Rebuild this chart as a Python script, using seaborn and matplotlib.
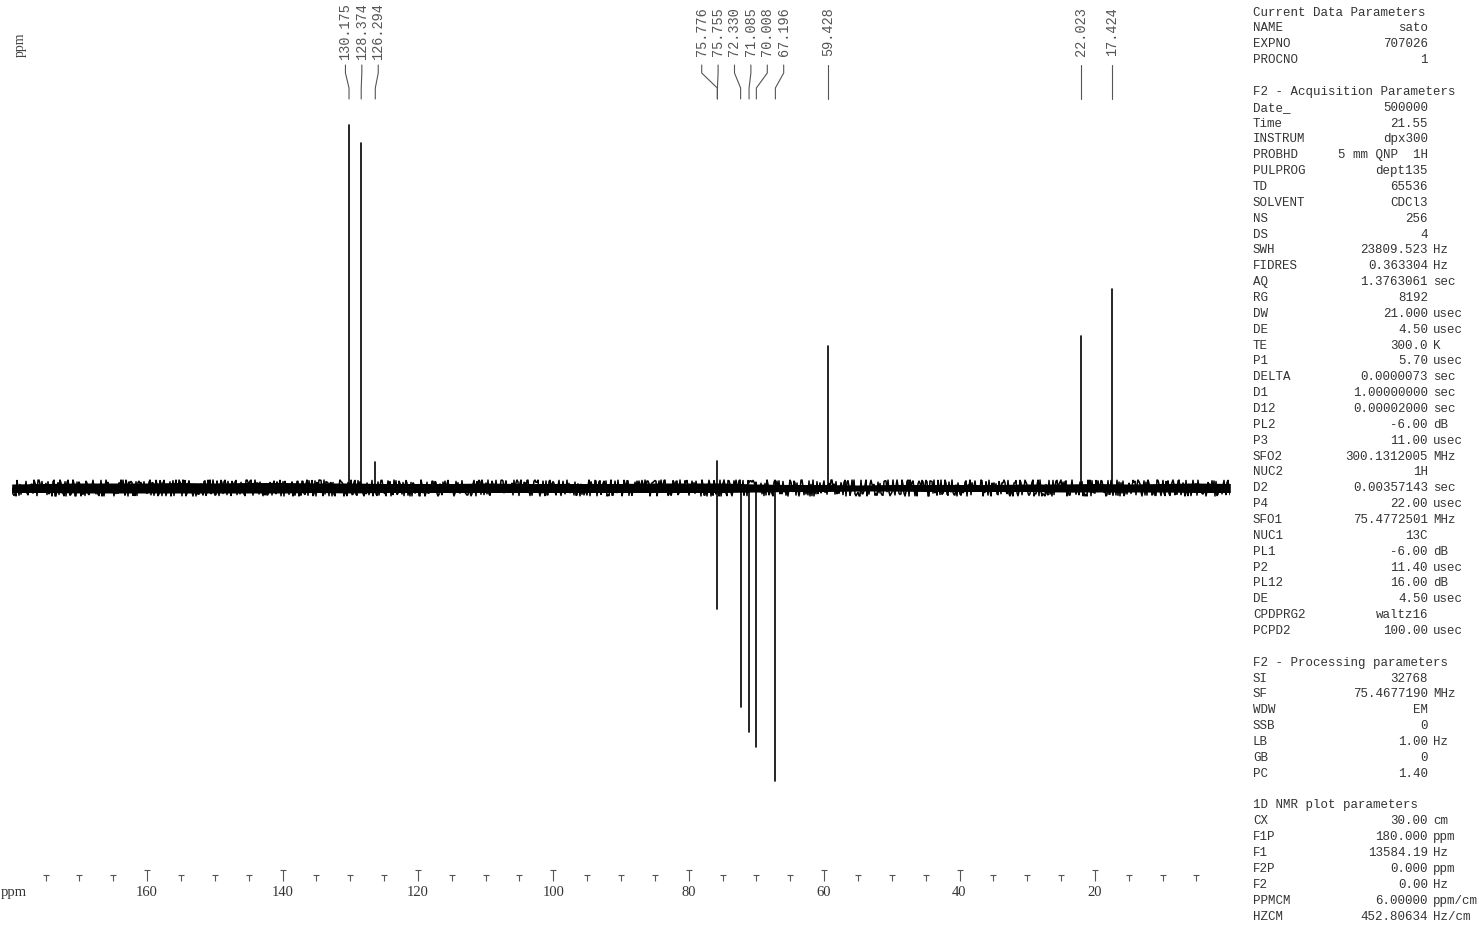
import matplotlib
matplotlib.use("Agg")
import numpy as np
import pandas as pd
import seaborn as sns
import matplotlib.pyplot as plt
from matplotlib.transforms import blended_transform_factory

# ---- spectrum data (13C DEPT-135, CDCl3) ----
peak_ppm = [130.175, 128.374, 126.294, 75.776, 75.755, 72.330,
            71.085, 70.008, 67.196, 59.428, 22.023, 17.424]
peak_intensity = [363, 345, 26, 27, -121, -219, -244, -259, -293, 142, 152, 199]

# baseline noise envelope (half-width above / below baseline), every 5 ppm
noise_ppm = [180, 175, 170, 165, 160, 155, 150, 145, 140, 135, 130, 125, 120,
             115, 110, 105, 100, 95, 90, 85, 80, 75, 70, 65, 60, 55, 50, 45,
             40, 35, 30, 25, 20, 15, 10, 5, 0]
noise_upper = [8, 9, 10, 10, 10, 11, 10, 11, 11, 10, 10, 9, 9, 9, 10, 9, 9, 9,
               9, 10, 10, 10, 8, 7, 7, 6, 7, 7, 7, 7, 8, 8, 9, 8, 9, 10, 9]
noise_lower = [9, 9, 10, 10, 10, 10, 10, 10, 10, 9, 10, 9, 9, 9, 9, 9, 9, 9,
               9, 9, 9, 9, 8, 7, 7, 6, 6, 7, 7, 7, 7, 8, 8, 8, 8, 9, 9]

major_ticks = [160, 140, 120, 100, 80, 60, 40, 20]
minor_ticks = [175, 170, 165, 155, 150, 145, 135, 130, 125, 115, 110, 105,
               95, 90, 85, 75, 70, 65, 55, 50, 45, 35, 30, 25, 15, 10, 5]

# ---- acquisition / processing parameter listing ----
param_rows = [
    ("Current Data Parameters",),
    ("NAME", "sato", ""),
    ("EXPNO", "707026", ""),
    ("PROCNO", "1", ""),
    None,
    ("F2 - Acquisition Parameters",),
    ("Date_", "500000", ""),
    ("Time", "21.55", ""),
    ("INSTRUM", "dpx300", ""),
    ("PROBHD", "5 mm QNP  1H", ""),
    ("PULPROG", "dept135", ""),
    ("TD", "65536", ""),
    ("SOLVENT", "CDCl3", ""),
    ("NS", "256", ""),
    ("DS", "4", ""),
    ("SWH", "23809.523", "Hz"),
    ("FIDRES", "0.363304", "Hz"),
    ("AQ", "1.3763061", "sec"),
    ("RG", "8192", ""),
    ("DW", "21.000", "usec"),
    ("DE", "4.50", "usec"),
    ("TE", "300.0", "K"),
    ("P1", "5.70", "usec"),
    ("DELTA", "0.0000073", "sec"),
    ("D1", "1.00000000", "sec"),
    ("D12", "0.00002000", "sec"),
    ("PL2", "-6.00", "dB"),
    ("P3", "11.00", "usec"),
    ("SFO2", "300.1312005", "MHz"),
    ("NUC2", "1H", ""),
    ("D2", "0.00357143", "sec"),
    ("P4", "22.00", "usec"),
    ("SFO1", "75.4772501", "MHz"),
    ("NUC1", "13C", ""),
    ("PL1", "-6.00", "dB"),
    ("P2", "11.40", "usec"),
    ("PL12", "16.00", "dB"),
    ("DE", "4.50", "usec"),
    ("CPDPRG2", "waltz16", ""),
    ("PCPD2", "100.00", "usec"),
    None,
    ("F2 - Processing parameters",),
    ("SI", "32768", ""),
    ("SF", "75.4677190", "MHz"),
    ("WDW", "EM", ""),
    ("SSB", "0", ""),
    ("LB", "1.00", "Hz"),
    ("GB", "0", ""),
    ("PC", "1.40", ""),
    None,
    ("1D NMR plot parameters",),
    ("CX", "30.00", "cm"),
    ("F1P", "180.000", "ppm"),
    ("F1", "13584.19", "Hz"),
    ("F2P", "0.000", "ppm"),
    ("F2", "0.00", "Hz"),
    ("PPMCM", "6.00000", "ppm/cm"),
    ("HZCM", "452.80634", "Hz/cm"),
]

sns.set_style("white")
plt.rcParams["font.family"] = ["Liberation Serif", "DejaVu Serif"]
mono = ["Liberation Mono", "DejaVu Sans Mono"]

W, H = 1479, 928
fig = plt.figure(figsize=(W / 100, H / 100), dpi=100)
fig.patch.set_facecolor("white")

ax_left, ax_right = 11.7, 1230.3
ax_top, ax_bottom = 100, 882
baseline_y = 489
ax = fig.add_axes([ax_left / W, (H - ax_bottom) / H,
                   (ax_right - ax_left) / W, (ax_bottom - ax_top) / H])
ax.set_facecolor("white")

# noisy baseline: solid core band plus a jittered trace
nu = np.array(noise_upper, float)
nl = np.array(noise_lower, float)
ax.fill_between(noise_ppm, -0.5 * nl, 0.5 * nu, color="black", lw=0)
sns.lineplot(x=noise_ppm, y=[0] * len(noise_ppm), ax=ax, color="black",
             lw=1.1, sort=False)
noise_line = ax.lines[-1]
noise_line.set_sketch_params(scale=8.0, length=2.5, randomness=3.0)

# peak sticks
sticks = pd.DataFrame({
    "ppm": np.repeat(peak_ppm, 2),
    "intensity": np.ravel([[0, h] for h in peak_intensity]),
    "peak": np.repeat(np.arange(len(peak_ppm)), 2),
})
sns.lineplot(data=sticks, x="ppm", y="intensity", units="peak",
             estimator=None, sort=False, color="black", lw=1.2, ax=ax)

ax.set_xlim(180, 0)
ax.set_ylim(baseline_y - ax_bottom, baseline_y - ax_top)
ax.set_xlabel("")
ax.set_ylabel("")
ax.set_yticks([])
for s in ax.spines.values():
    s.set_visible(False)

ax.set_xticks(major_ticks)
ax.set_xticklabels([str(t) for t in major_ticks])
ax.set_xticks(minor_ticks, minor=True)
ax.tick_params(axis="x", which="major", direction="in", length=8, width=0.8,
               color="#555555", labelsize=10.5, labelcolor="#333333", pad=3,
               bottom=True)
ax.tick_params(axis="x", which="minor", direction="in", length=4.3, width=0.8,
               color="#555555", bottom=True)

# small caps on top of the ticks
tick_tr = blended_transform_factory(ax.transData, ax.transAxes)
ax_h = ax_bottom - ax_top
ax.plot(major_ticks, [11 / ax_h] * len(major_ticks), ls="none", marker="_",
        ms=4, mew=0.8, color="#555555", transform=tick_tr, clip_on=False)
ax.plot(minor_ticks, [6 / ax_h] * len(minor_ticks), ls="none", marker="_",
        ms=4, mew=0.8, color="#555555", transform=tick_tr, clip_on=False)

fig.text(1 / W, 1 - 893 / H, "ppm", fontsize=10.5, color="#333333",
         va="center", ha="left")
fig.text(20 / W, 1 - 45 / H, "ppm", fontsize=10, color="#444444",
         rotation=90, va="center", ha="center")

# ---- peak labels with leader lines ----
px_per_ppm = (ax_right - ax_left) / 180.0
gap = 16.4 / px_per_ppm
order = sorted(peak_ppm, reverse=True)
clusters = [[p] for p in order]


def spread(cl):
    c = np.mean(cl)
    n = len(cl)
    return [c + gap * ((n - 1) / 2 - k) for k in range(n)]


changed = True
while changed:
    changed = False
    for i in range(len(clusters) - 1):
        a, b = spread(clusters[i]), spread(clusters[i + 1])
        if a[-1] - b[0] < gap:
            clusters[i] = clusters[i] + clusters[i + 1]
            del clusters[i + 1]
            changed = True
            break

label_pos = {}
for cl in clusters:
    for p, lp in zip(cl, spread(cl)):
        label_pos[p] = lp

lab_tr = blended_transform_factory(ax.transData, fig.transFigure)


def fy(px):
    return 1 - px / H


for p in peak_ppm:
    lp = label_pos[p]
    ax.text(lp, fy(32), f"{p:.3f}", rotation=90, ha="center", va="center",
            fontsize=9.8, family=mono, color="#555555", transform=lab_tr)
    ax.plot([lp, lp, p, p], [fy(66), fy(74), fy(89), fy(100)],
            color="#555555", lw=0.8, transform=lab_tr, clip_on=False)

# ---- parameter listing ----
x_name, x_val, x_unit = 1253 / W, 1428 / W, 1433 / W
for i, row in enumerate(param_rows):
    if row is None:
        continue
    y = fy(12.5 + i * 15.86)
    kw = dict(fontsize=9.0, family=mono, color="#333333", va="center")
    if len(row) == 1:
        fig.text(x_name, y, row[0], ha="left", **kw)
        continue
    name, val, unit = row
    fig.text(x_name, y, name, ha="left", **kw)
    fig.text(x_val, y, val, ha="right", **kw)
    if unit:
        fig.text(x_unit, y, unit, ha="left", **kw)

fig.savefig("out.png", dpi=100, facecolor="white")
